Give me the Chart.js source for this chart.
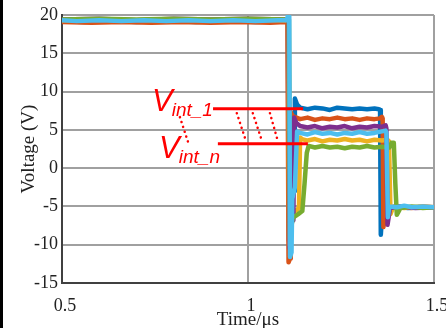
<!DOCTYPE html>
<html>
<head>
<meta charset="utf-8">
<script src="https://cdn.jsdelivr.net/npm/chart.js@4/dist/chart.umd.min.js"></script>
<style>
  body { margin: 0; background: #fff; }
  canvas { display: block; }
</style>
</head>
<body>
<canvas id="chart" width="446" height="328"></canvas>
<script>
// time (µs), voltage (V), one trace per gate
var blue = [[0.5,19.2],[0.56,19.1],[0.62,19.2],[0.7,19.1],[0.78,19.2],[0.86,19.1],[0.94,19.2],[1.02,19.1],[1.1,19.2],
	[1.107,19.3],[1.110,-9.5],[1.116,-4.5],[1.124,-3.0],[1.126,9.1],[1.132,8.3],[1.14,7.9],[1.16,7.7],[1.18,7.9],[1.2,7.8],
	[1.22,7.6],[1.24,7.9],[1.26,7.8],[1.28,7.7],[1.3,7.8],[1.32,7.7],[1.34,7.8],[1.352,7.7],[1.355,7.6],[1.357,-8.7],
	[1.362,-5.0],[1.37,-5.2],[1.4,-5.0],[1.43,-5.2],[1.46,-5.1],[1.5,-5.1]];
var orange = [[0.5,19.1],[0.58,19.0],[0.66,19.1],[0.74,19.0],[0.82,19.1],[0.9,19.0],[0.98,19.1],[1.06,19.0],[1.1,19.1],
	[1.106,19.0],[1.109,-12.3],[1.113,-11.8],[1.115,7.3],[1.12,6.8],[1.14,6.4],[1.16,6.6],[1.18,6.3],[1.2,6.5],[1.22,6.4],
	[1.24,6.6],[1.26,6.4],[1.28,6.5],[1.3,6.3],[1.32,6.5],[1.34,6.4],[1.355,6.5],[1.36,6.7],[1.362,6.5],[1.364,-7.7],
	[1.372,-5.2],[1.4,-5.0],[1.44,-5.2],[1.47,-5.0],[1.5,-5.1]];
var yellow = [[0.5,19.3],[0.6,19.4],[0.7,19.3],[0.8,19.4],[0.9,19.3],[1.0,19.4],[1.1,19.3],[1.108,19.4],[1.111,-10.0],
	[1.116,-6.0],[1.13,-5.5],[1.137,-5.2],[1.14,4.0],[1.145,3.8],[1.16,3.6],[1.18,3.8],[1.2,3.5],[1.22,3.7],[1.24,3.6],
	[1.26,3.8],[1.28,3.6],[1.3,3.7],[1.32,3.5],[1.34,3.7],[1.36,3.6],[1.375,3.7],[1.379,3.5],[1.383,-6.0],[1.39,-5.1],
	[1.42,-5.2],[1.46,-5.0],[1.5,-5.1]];
var purple = [[0.5,19.4],[0.6,19.5],[0.7,19.3],[0.8,19.5],[0.9,19.4],[1.0,19.5],[1.1,19.4],[1.109,19.4],[1.112,-10.5],
	[1.117,-7.0],[1.122,-6.8],[1.124,6.6],[1.13,5.9],[1.14,5.5],[1.16,5.3],[1.18,5.5],[1.2,5.2],[1.22,5.4],[1.24,5.3],
	[1.26,5.5],[1.28,5.2],[1.3,5.4],[1.32,5.3],[1.34,5.5],[1.36,5.4],[1.37,5.6],[1.372,5.2],[1.375,-7.4],[1.382,-5.2],
	[1.41,-5.0],[1.45,-5.2],[1.5,-5.1]];
var green = [[0.5,19.4],[0.6,19.5],[0.7,19.4],[0.8,19.5],[0.9,19.4],[1.0,19.5],[1.1,19.4],[1.11,19.4],[1.113,-9.0],
	[1.12,-6.5],[1.135,-6.0],[1.146,-5.6],[1.152,-2.0],[1.158,2.0],[1.163,2.9],[1.18,2.7],[1.2,2.9],[1.22,2.7],[1.24,2.8],
	[1.26,2.6],[1.28,2.8],[1.3,2.7],[1.32,2.9],[1.34,2.7],[1.36,2.8],[1.38,2.7],[1.386,3.3],[1.392,3.3],[1.396,-2.0],
	[1.4,-6.1],[1.41,-5.2],[1.44,-5.0],[1.47,-5.2],[1.5,-5.1]];
var lightBlue = [[0.5,19.3],[0.54,19.2],[0.6,19.3],[0.66,19.2],[0.72,19.3],[0.78,19.2],[0.84,19.3],[0.9,19.2],[0.96,19.3],
	[1.02,19.2],[1.08,19.3],[1.104,19.3],[1.108,20.0],[1.111,19.8],[1.113,-11.6],[1.117,-11.0],[1.119,-4.0],[1.126,-2.5],
	[1.132,4.8],[1.14,4.6],[1.16,4.4],[1.18,4.7],[1.2,4.5],[1.22,4.6],[1.24,4.4],[1.26,4.6],[1.28,4.5],[1.3,4.7],[1.32,4.5],
	[1.34,4.6],[1.36,4.8],[1.37,4.9],[1.372,4.6],[1.376,-6.4],[1.38,-5.0],[1.4,-5.1],[1.42,-4.9],[1.44,-5.1],[1.47,-5.0],
	[1.5,-5.1]];

var xTicks = [0.5, 1, 1.5];
var yTicks = [-15, -10, -5, 0, 5, 10, 15, 20];

// annotation geometry, in axis units
var annot = {
	line1: { x0: 0.906, x1: 1.148, y: 7.77 },
	line2: { x0: 0.919, x1: 1.161, y: 3.2 },
	slants: [[0.970, 0.992], [1.013, 1.035], [1.059, 1.078]],
	slantY: [7.18, 3.92],
	link: [[0.817, 6.66], [0.839, 3.39]],
	label1: { x: 0.742, y: 7.44, sub: "int_1" },
	label2: { x: 0.761, y: 1.3, sub: "int_n" },
};

var toPoints = (arr) => arr.map((p) => ({ x: p[0], y: p[1] }));

var traces = [
	{ data: lightBlue, color: "#4DBEEE" },
	{ data: green, color: "#77AC30" },
	{ data: purple, color: "#7E2F8E" },
	{ data: yellow, color: "#EDB120" },
	{ data: orange, color: "#D95319" },
	{ data: blue, color: "#0072BD" },
];

var annotPlugin = {
	id: "annot",
	beforeDraw: (chart) => {
		var ctx = chart.ctx;
		ctx.save();
		ctx.fillStyle = "#fff";
		ctx.fillRect(0, 0, chart.width, chart.height);
		ctx.fillStyle = "#000";
		ctx.fillRect(0, 0, 3, chart.height);
		ctx.restore();
	},
	afterDatasetsDraw: (chart) => {
		var ctx = chart.ctx;
		var xs = chart.scales.x, ys = chart.scales.y;
		var X = (v) => xs.getPixelForValue(v), Y = (v) => ys.getPixelForValue(v);
		ctx.save();
		ctx.strokeStyle = "#ff0000";
		ctx.fillStyle = "#ff0000";
		ctx.lineWidth = 3;
		[annot.line1, annot.line2].forEach((l) => {
			ctx.beginPath();
			ctx.moveTo(X(l.x0), Y(l.y));
			ctx.lineTo(X(l.x1), Y(l.y));
			ctx.stroke();
		});
		ctx.lineWidth = 2.5;
		ctx.lineCap = "round";
		ctx.setLineDash([0.1, 5]);
		annot.slants.forEach((s) => {
			ctx.beginPath();
			ctx.moveTo(X(s[0]), Y(annot.slantY[0]));
			ctx.lineTo(X(s[1]), Y(annot.slantY[1]));
			ctx.stroke();
		});
		ctx.beginPath();
		ctx.moveTo(X(annot.link[0][0]), Y(annot.link[0][1]));
		ctx.lineTo(X(annot.link[1][0]), Y(annot.link[1][1]));
		ctx.stroke();
		ctx.setLineDash([]);
		ctx.textBaseline = "alphabetic";
		ctx.textAlign = "left";
		[annot.label1, annot.label2].forEach((lb) => {
			var px = X(lb.x), py = Y(lb.y);
			ctx.font = "italic 31px 'Liberation Sans', Arial, sans-serif";
			ctx.fillText("V", px, py);
			var w = ctx.measureText("V").width;
			ctx.font = "italic 19px 'Liberation Sans', Arial, sans-serif";
			ctx.fillText(lb.sub, px + w - 1, py + 5);
		});
		ctx.restore();
	},
};

var tickFont = { family: "'Liberation Serif', 'Times New Roman', serif", size: 18 };
var titleFont = { family: "'Liberation Serif', 'Times New Roman', serif", size: 19, lineHeight: 0.85 };

new Chart(document.getElementById("chart").getContext("2d"), {
	type: "line",
	data: {
		datasets: traces.map((t) => ({
			data: toPoints(t.data),
			borderColor: t.color,
			backgroundColor: t.color,
			borderWidth: 4.5,
			pointRadius: 0,
			tension: 0,
			borderJoinStyle: "round",
			borderCapStyle: "round",
			fill: false,
		})),
	},
	options: {
		responsive: false,
		animation: false,
		events: [],
		layout: { padding: { top: 15, right: 12, bottom: 0, left: 0 } },
		plugins: { legend: { display: false }, tooltip: { enabled: false } },
		scales: {
			x: {
				type: "linear",
				min: 0.5,
				max: 1.5,
				afterBuildTicks: (s) => { s.ticks = xTicks.map((v) => ({ value: v })); },
				afterFit: (s) => { s.height = 45; s.paddingLeft = 0; s.paddingRight = 0; },
				ticks: { font: tickFont, color: "#222", padding: 12, labelOffset: 3, maxRotation: 0, autoSkip: false,
					callback: (v) => String(v) },
				grid: { color: "#a0a0a0", lineWidth: 2, drawTicks: false },
				border: { color: "#404040", width: 2 },
				title: { display: true, text: "Time/μs", font: titleFont, color: "#222", padding: 0 },
			},
			y: {
				min: -15,
				max: 20,
				afterBuildTicks: (s) => { s.ticks = yTicks.map((v) => ({ value: v })); },
				afterFit: (s) => { s.width = 62; s.paddingTop = 0; s.paddingBottom = 0; },
				ticks: { font: tickFont, color: "#222", padding: 4, callback: (v) => String(v) },
				grid: { color: "#a0a0a0", lineWidth: 2, drawTicks: false },
				border: { color: "#404040", width: 2 },
				title: { display: true, text: "Voltage (V)", font: titleFont, color: "#222", padding: { top: 21, bottom: 0 } },
			},
		},
	},
	plugins: [annotPlugin],
});
</script>
</body>
</html>
